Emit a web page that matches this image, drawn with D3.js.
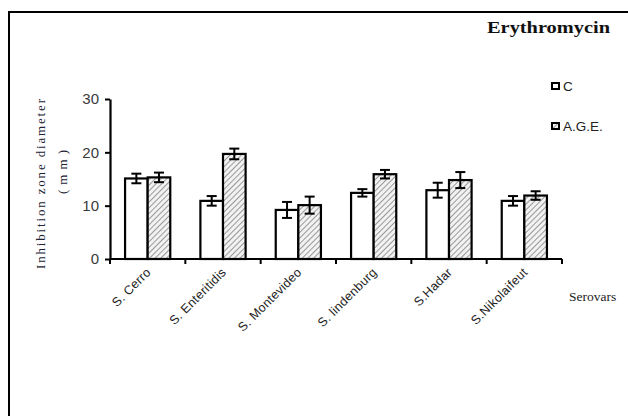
<!DOCTYPE html>
<html>
<head>
<meta charset="utf-8">
<script src="https://cdnjs.cloudflare.com/ajax/libs/d3/7.8.5/d3.min.js"></script>
<style>
  body { margin: 0; background: #fff; }
</style>
</head>
<body>
<div id="chart"></div>
<script>
var serovars = ["S. Cerro", "S. Enteritidis", "S. Montevideo", "S. lindenburg", "S.Hadar", "S.Nikolaifeut"]
var groups = ["C", "A.G.E."]
var valuesC = [15.1, 10.9, 9.2, 12.4, 12.9, 10.9]
var errC = [0.9, 0.9, 1.5, 0.7, 1.4, 0.9]
var valuesAGE = [15.3, 19.7, 10.1, 15.9, 14.8, 11.9]
var errAGE = [0.9, 1.0, 1.6, 0.8, 1.5, 0.8]
var yTicks = [0, 10, 20, 30]

var width = 628, height = 416
var margin = { top: 99, left: 110, right: 66, bottom: 157 }
var plotW = width - margin.left - margin.right
var plotH = height - margin.top - margin.bottom

var svg = d3.select("#chart").append("svg")
    .attr("width", width)
    .attr("height", height)

// pattern for the hatched bars
var defs = svg.append("defs")
var pat = defs.append("pattern")
    .attr("id", "hatch")
    .attr("patternUnits", "userSpaceOnUse")
    .attr("width", 4).attr("height", 4)
    .attr("patternTransform", "rotate(45)")
pat.append("rect").attr("width", 4).attr("height", 4).attr("fill", "#f2f2f2")
pat.append("line").attr("x1", 0).attr("y1", 0).attr("x2", 0).attr("y2", 4)
    .attr("stroke", "#999").attr("stroke-width", 2)

// outer frame (top + left only)
svg.append("path")
    .attr("d", "M9,416 L9,12 L628,12")
    .attr("fill", "none")
    .attr("stroke", "#000")
    .attr("stroke-width", 2)

var g = svg.append("g")
    .attr("transform", "translate(" + margin.left + "," + margin.top + ")")

var x = d3.scaleBand()
    .domain(serovars)
    .range([0, plotW])
    .paddingInner(0.4)
    .paddingOuter(0.2)

var xBound = d3.scaleLinear().domain([0, serovars.length]).range([0, plotW])

var xSub = d3.scaleBand()
    .domain(groups)
    .range([0, x.bandwidth()])

var y = d3.scaleLinear()
    .domain([0, 30])
    .range([plotH, 0])

var data = []
serovars.forEach(function(s, i) {
    data.push({ s: s, g: "C", v: valuesC[i], e: errC[i] })
    data.push({ s: s, g: "A.G.E.", v: valuesAGE[i], e: errAGE[i] })
})

// bars
g.selectAll("rect.bar")
    .data(data).enter()
    .append("rect")
        .attr("class", "bar")
        .attr("x", function(d) { return x(d.s) + xSub(d.g) })
        .attr("y", function(d) { return y(d.v) })
        .attr("width", xSub.bandwidth())
        .attr("height", function(d) { return plotH - y(d.v) })
        .attr("fill", function(d) { return d.g == "C" ? "#fff" : "url(#hatch)" })
        .attr("stroke", "#000")
        .attr("stroke-width", 2.2)

// error bars
var eb = g.selectAll("g.err")
    .data(data).enter()
    .append("g")
        .attr("class", "err")
        .attr("transform", function(d) {
            return "translate(" + (x(d.s) + xSub(d.g) + xSub.bandwidth() / 2) + ",0)"
        })
eb.append("line")
    .attr("x1", 0).attr("x2", 0)
    .attr("y1", function(d) { return y(d.v + d.e) })
    .attr("y2", function(d) { return y(d.v - d.e) })
    .attr("stroke", "#000").attr("stroke-width", 2)
eb.append("line")
    .attr("x1", -5).attr("x2", 5)
    .attr("y1", function(d) { return y(d.v + d.e) })
    .attr("y2", function(d) { return y(d.v + d.e) })
    .attr("stroke", "#000").attr("stroke-width", 2)
eb.append("line")
    .attr("x1", -5).attr("x2", 5)
    .attr("y1", function(d) { return y(d.v - d.e) })
    .attr("y2", function(d) { return y(d.v - d.e) })
    .attr("stroke", "#000").attr("stroke-width", 2)

// y axis
var yAxis = g.append("g")
    .call(d3.axisLeft(y).tickValues(yTicks).tickSize(5).tickSizeOuter(0).tickPadding(6))
yAxis.select(".domain").attr("stroke-width", 2.2)
yAxis.selectAll(".tick line").attr("stroke-width", 2)
yAxis.selectAll("text")
    .attr("font-family", "Liberation Sans, Arial, sans-serif")
    .attr("font-size", "15px")
    .attr("fill", "#3a3a3a")

// x axis: ticks at category boundaries
g.append("line")
    .attr("x1", 0).attr("x2", plotW)
    .attr("y1", plotH).attr("y2", plotH)
    .attr("stroke", "#000").attr("stroke-width", 2.2)
g.selectAll("line.xtick")
    .data(d3.range(serovars.length + 1)).enter()
    .append("line")
        .attr("class", "xtick")
        .attr("x1", function(d) { return xBound(d) })
        .attr("x2", function(d) { return xBound(d) })
        .attr("y1", plotH).attr("y2", plotH + 5)
        .attr("stroke", "#000").attr("stroke-width", 2)

g.selectAll("text.xlab")
    .data(serovars).enter()
    .append("text")
        .attr("class", "xlab")
        .attr("transform", function(d) {
            return "translate(" + (x(d) + x.bandwidth() / 2 + 4) + "," + (plotH + 14) + ") rotate(-45)"
        })
        .attr("text-anchor", "end")
        .attr("font-family", "Liberation Sans, Arial, sans-serif")
        .attr("font-size", "12.5px")
        .attr("letter-spacing", "0.3px")
        .attr("fill", "#222")
        .text(function(d) { return d })

// x axis title
svg.append("text")
    .attr("x", 569).attr("y", 301)
    .attr("font-family", "Liberation Serif, Times New Roman, serif")
    .attr("font-size", "13.5px")
    .attr("fill", "#222")
    .text("Serovars")

// y axis title
svg.append("text")
    .attr("transform", "translate(45,184) rotate(-90)")
    .attr("text-anchor", "middle")
    .attr("font-family", "Liberation Serif, Times New Roman, serif")
    .attr("font-size", "13px")
    .attr("textLength", 170)
    .attr("lengthAdjust", "spacing")
    .attr("fill", "#223")
    .text("Inhibition zone diameter")
svg.append("text")
    .attr("transform", "translate(67,172) rotate(-90)")
    .attr("text-anchor", "middle")
    .attr("font-family", "Liberation Serif, Times New Roman, serif")
    .attr("font-size", "13px")
    .attr("textLength", 44)
    .attr("lengthAdjust", "spacing")
    .attr("fill", "#223")
    .text("(mm)")

// title
svg.append("text")
    .attr("x", 487).attr("y", 33)
    .attr("font-family", "Liberation Serif, Times New Roman, serif")
    .attr("font-size", "17px")
    .attr("font-weight", "bold")
    .attr("textLength", 123)
    .attr("lengthAdjust", "spacingAndGlyphs")
    .attr("fill", "#111")
    .text("Erythromycin")

// legend
var legend = svg.selectAll("g.legend")
    .data(groups).enter()
    .append("g")
        .attr("class", "legend")
        .attr("transform", function(d, i) { return "translate(552," + (83 + i * 40) + ")" })
legend.append("rect")
    .attr("width", 7).attr("height", 6)
    .attr("fill", function(d) { return d == "C" ? "#fff" : "url(#hatch)" })
    .attr("stroke", "#000").attr("stroke-width", 2)
legend.append("text")
    .attr("x", 11).attr("y", 8)
    .attr("font-family", "Liberation Sans, Arial, sans-serif")
    .attr("font-size", "13.5px")
    .attr("fill", "#222")
    .text(function(d) { return d })
</script>
</body>
</html>
